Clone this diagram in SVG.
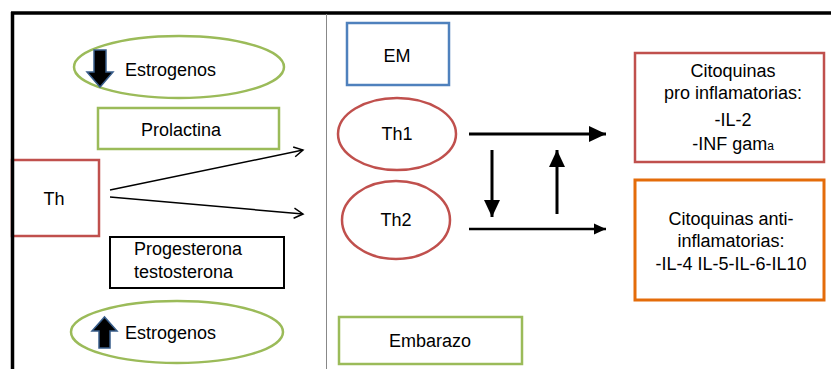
<svg xmlns="http://www.w3.org/2000/svg" width="831" height="369" viewBox="0 0 831 369">
<defs>
<style>
text{font-family:"Liberation Sans",Arial,sans-serif;font-size:18px;fill:#000}
.c{text-anchor:middle}
.green{fill:#fff;stroke:#9BBB59;stroke-width:2.5}
.red{fill:#fff;stroke:#C0504D;stroke-width:2.5}
.blue{fill:#fff;stroke:#4F81BD;stroke-width:2.5}
.black{fill:#fff;stroke:#000;stroke-width:2}
.orange{fill:#fff;stroke:#E46C0A;stroke-width:3}
.ln{stroke:#000;fill:none}
.bigarrow{fill:#000;stroke:#385D8A;stroke-width:1.5}
</style>
<marker id="open" markerWidth="12" markerHeight="12" refX="10" refY="6" orient="auto" markerUnits="userSpaceOnUse">
<path d="M1,1 L10,6 L1,11" fill="none" stroke="#000" stroke-width="1.5"/>
</marker>
<marker id="fill" markerWidth="18" markerHeight="18" refX="17" refY="9" orient="auto" markerUnits="userSpaceOnUse">
<path d="M0,1 L17,9 L0,17 Z" fill="#000"/>
</marker>
<marker id="fillS" markerWidth="14" markerHeight="14" refX="12" refY="6" orient="auto" markerUnits="userSpaceOnUse">
<path d="M0,0.5 L12,6 L0,11.5 Z" fill="#000"/>
</marker>
</defs>
<rect width="831" height="369" fill="#fff"/>
<g id="estrogenos-top">
<ellipse class="green" cx="179" cy="67" rx="105" ry="31"/>
<path class="bigarrow" d="M94,50 L106,50 L106,72 L113,72 L100,87 L87,72 L94,72 Z"/>
<text x="125" y="76">Estrogenos</text>
</g>
<g id="prolactina">
<rect class="green" x="98" y="108" width="181" height="41"/>
<text class="c" x="181" y="136">Prolactina</text>
</g>
<g id="th">
<rect class="red" x="12" y="160" width="87" height="76"/>
<text class="c" x="54" y="205">Th</text>
</g>
<g id="progesterona">
<rect class="black" x="110" y="237" width="174" height="51"/>
<text x="134" y="255">Progesterona</text>
<text x="134" y="278">testosterona</text>
</g>
<g id="estrogenos-bottom">
<ellipse class="green" cx="177" cy="332" rx="106" ry="31"/>
<path class="bigarrow" d="M99,348 L110,348 L110,331 L117,331 L104.5,317 L92,331 L99,331 Z"/>
<text x="125" y="339">Estrogenos</text>
</g>
<g id="em">
<rect class="blue" x="347" y="23" width="102" height="62"/>
<text class="c" x="397" y="62">EM</text>
</g>
<g id="th1">
<ellipse class="red" cx="397" cy="134" rx="59" ry="36"/>
<text class="c" x="397" y="140">Th1</text>
</g>
<g id="th2">
<ellipse class="red" cx="396" cy="220" rx="54" ry="39"/>
<text class="c" x="396" y="226">Th2</text>
</g>
<g id="embarazo">
<rect class="green" x="339" y="317" width="183" height="47"/>
<text class="c" x="430" y="347">Embarazo</text>
</g>
<g id="citoquinas-pro">
<rect class="red" x="635" y="53" width="189" height="109"/>
<text class="c" x="733" y="77">Citoquinas</text>
<text class="c" x="733" y="99">pro inflamatorias:</text>
<text class="c" x="733" y="126">-IL-2</text>
<text class="c" x="733" y="150">-INF gam<tspan font-size="12">a</tspan></text>
</g>
<g id="citoquinas-anti">
<rect class="orange" x="635" y="180" width="189" height="120"/>
<text class="c" x="731" y="225">Citoquinas anti-</text>
<text class="c" x="731" y="247">inflamatorias:</text>
<text class="c" x="731" y="270">-IL-4 IL-5-IL-6-IL10</text>
</g>
<g id="frame">
<line x1="11" y1="13" x2="831" y2="13" stroke="#000" stroke-width="3.5"/>
<line x1="12.5" y1="12" x2="12.5" y2="369" stroke="#000" stroke-width="3.5"/>
<line x1="326.5" y1="14" x2="326.5" y2="369" stroke="#888" stroke-width="1"/>
</g>
<g id="connectors">
<line class="ln" x1="110" y1="190" x2="303" y2="150" stroke-width="1.5" marker-end="url(#open)"/>
<line class="ln" x1="110" y1="197" x2="303" y2="214" stroke-width="1.5" marker-end="url(#open)"/>
<line class="ln" x1="469" y1="134" x2="606" y2="134" stroke-width="3" marker-end="url(#fill)"/>
<line class="ln" x1="469" y1="229" x2="606" y2="229" stroke-width="2.5" marker-end="url(#fillS)"/>
<line class="ln" x1="492" y1="150" x2="492" y2="217" stroke-width="3" marker-end="url(#fill)"/>
<line class="ln" x1="557" y1="214" x2="557" y2="150" stroke-width="3" marker-end="url(#fill)"/>
</g>
</svg>
